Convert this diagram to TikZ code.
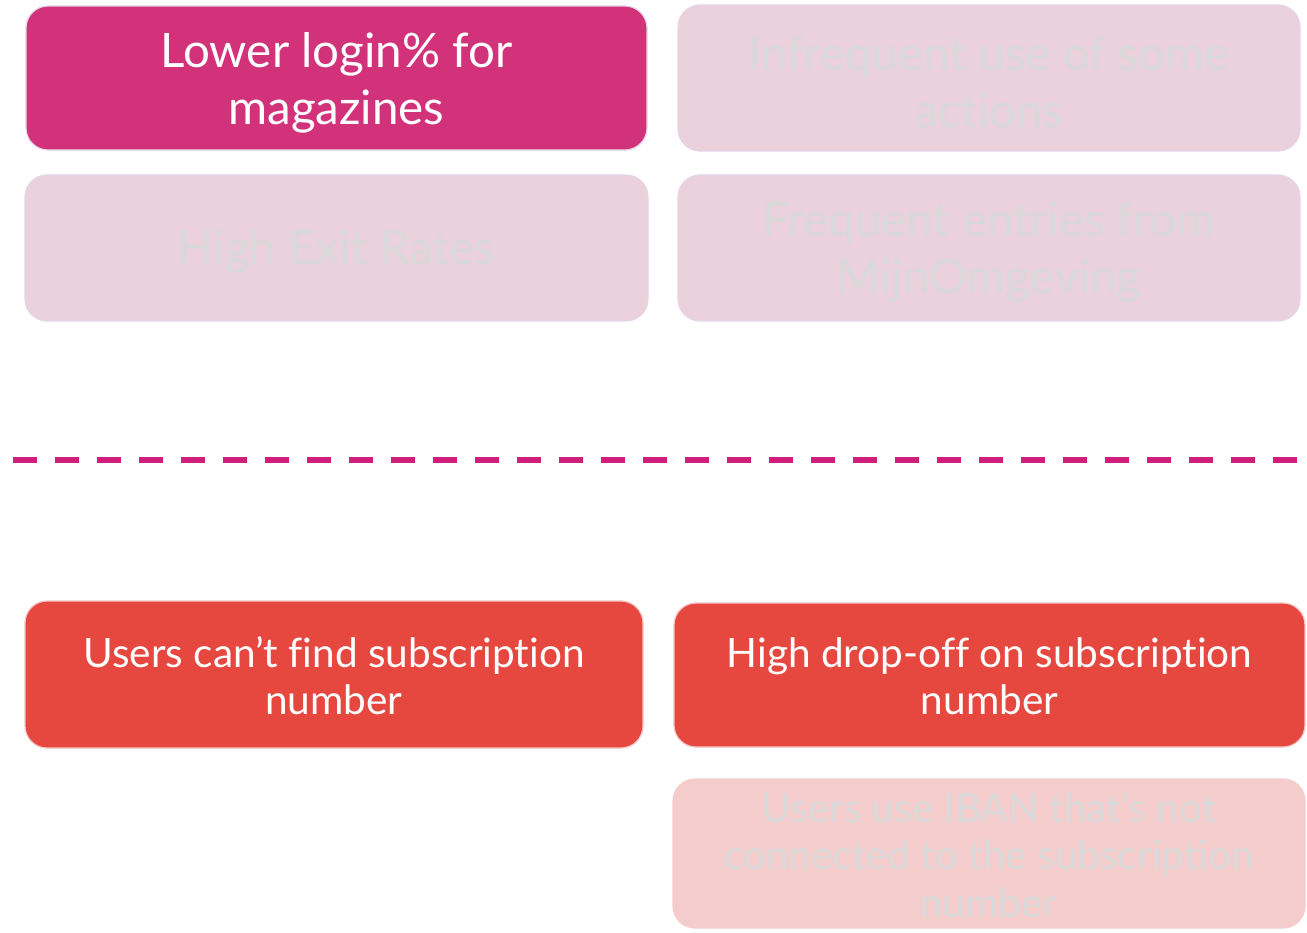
\documentclass[tikz,border=0pt]{standalone}
\usepackage{fontspec}
\setmainfont{Lato}[Ligatures=NoCommon]
\definecolor{magenta}{HTML}{D2327A}
\definecolor{palepink}{HTML}{EAD1DC}
\definecolor{redbox}{HTML}{E6483F}
\definecolor{palered}{HTML}{F4CCCC}
\definecolor{ghost}{HTML}{D9D9D9}
\definecolor{dashcol}{HTML}{D01F7A}
\definecolor{edgepink}{HTML}{E5D5E8}
\definecolor{edgered}{HTML}{F1C6C4}
\tikzset{
  card/.style={rectangle, rounded corners=22pt, inner sep=0pt, line width=1.2pt},
  words/.style={align=center, inner sep=0pt},
  bigtext/.style={words, font=\fontsize{47.5}{57}\selectfont},
  smalltext/.style={words, font=\fontsize{40.5}{47.5}\selectfont},
  hot/.style={card, fill=magenta, draw=edgepink},
  faintpink/.style={card, fill=palepink, draw=edgepink},
  hotred/.style={card, fill=redbox, draw=edgered},
  faintred/.style={card, fill=palered, draw=palered},
  divider/.style={draw=dashcol, line width=6pt, dash pattern=on 24pt off 18pt}
}
\begin{document}
\begin{tikzpicture}[x=1pt,y=-1pt]
\useasboundingbox (0,0) rectangle (1307,933);
% top cards
\node[hot, minimum width=621pt, minimum height=144pt] (lower) at (336.5,78) {};
\node[bigtext, text=white] (lowerT) at ([yshift=-5pt]lower.center) {Lower login\% for\\magazines};
\node[faintpink, minimum width=622pt, minimum height=146pt] (infreq) at (989,78) {};
\node[bigtext, text=ghost] (infreqT) at ([yshift=-4pt]infreq.center) {Infrequent use of some\\actions};
\node[faintpink, minimum width=623pt, minimum height=146pt] (exit) at (336.5,248) {};
\node[bigtext, text=ghost] (exitT) at ([yshift=-3pt]exit.center) {High Exit Rates};
\node[faintpink, minimum width=622pt, minimum height=146pt] (freq) at (989,248) {};
\node[bigtext, text=ghost] (freqT) at ([yshift=-4pt]freq.center) {Frequent entries from\\MijnOmgeving};
% divider
\coordinate (dl) at (12.7,459.7);
\coordinate (dr) at (1300,459.7);
\draw[divider] (dl) -- (dr);
% bottom cards
\node[hotred, minimum width=618pt, minimum height=147pt] (cant) at (334,674.5) {};
\node[smalltext, text=white] (cantT) at ([yshift=-1pt]cant.center) {Users can’t find subscription\\number};
\node[hotred, minimum width=631pt, minimum height=144pt] (drop) at (989.5,675) {};
\node[smalltext, text=white] (dropT) at ([yshift=-1pt]drop.center) {High drop-off on subscription\\number};
\node[faintred, minimum width=632pt, minimum height=149pt] (iban) at (989,853.5) {};
\node[smalltext, text=ghost] (ibanT) at ([yshift=-1pt]iban.center) {Users use IBAN that’s not\\connected to the subscription\\number};
\end{tikzpicture}
\end{document}
